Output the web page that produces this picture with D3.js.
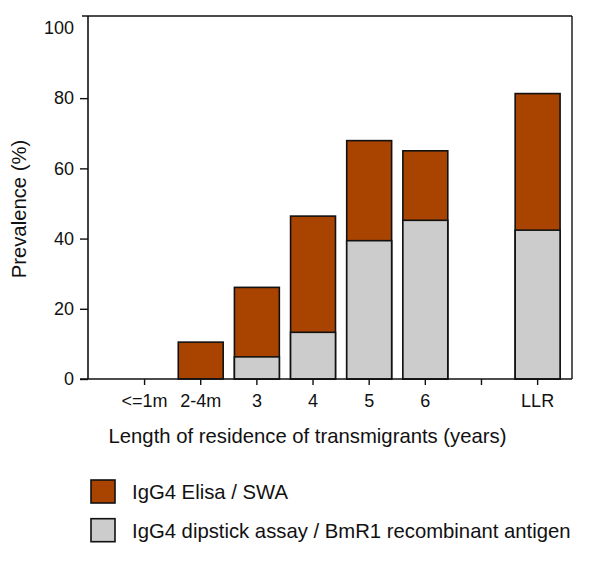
<!DOCTYPE html>
<html>
<head>
<meta charset="utf-8">
<script src="https://cdn.jsdelivr.net/npm/d3@7"></script>
<style>
  html, body { margin: 0; padding: 0; background: #fff; }
  svg { display: block; font-family: "Liberation Sans", Arial, sans-serif; }
</style>
</head>
<body>
<svg id="chart" width="600" height="561"></svg>
<script>
// ---- Data ----
const categories = ["<=1m", "2-4m", "3", "4", "5", "6", " ", "LLR"];
const elisaValues = [0, 10.5, 26.1, 46.4, 67.9, 65.0, null, 81.3];     // IgG4 Elisa / SWA
const dipstickValues = [0, 0, 6.3, 13.3, 39.4, 45.2, null, 42.4];      // IgG4 dipstick / BmR1
const yTickValues = [0, 20, 40, 60, 80, 100];
const seriesNames = ["IgG4 Elisa / SWA", "IgG4 dipstick assay / BmR1 recombinant antigen"];
const seriesColors = ["#a84400", "#cccccc"];

// ---- Layout ----
const svg = d3.select("#chart");
const plot = { left: 88, right: 572, top: 16, bottom: 379 };

const x = d3.scaleBand()
  .domain(categories)
  .range([116.5, 565.7])
  .paddingInner(0.2)
  .paddingOuter(0.1);

const y = d3.scaleLinear()
  .domain([0, 103.4])
  .range([plot.bottom, plot.top]);

const tickFont = 18;
const titleFont = 20.3;

// bars: Elisa full bar, dipstick overlaid from 0
const g = svg.append("g");
categories.forEach((c, i) => {
  const e = elisaValues[i];
  const d = dipstickValues[i];
  if (e != null && e > 0) {
    g.append("rect")
      .attr("x", x(c)).attr("width", x.bandwidth())
      .attr("y", y(e)).attr("height", y(0) - y(e))
      .attr("fill", seriesColors[0])
      .attr("stroke", "#111").attr("stroke-width", 1.6);
  }
  if (d != null && d > 0) {
    g.append("rect")
      .attr("x", x(c)).attr("width", x.bandwidth())
      .attr("y", y(d)).attr("height", y(0) - y(d))
      .attr("fill", seriesColors[1])
      .attr("stroke", "#111").attr("stroke-width", 1.6);
  }
});

// frame: top and right
svg.append("line")
  .attr("x1", 82).attr("x2", plot.right)
  .attr("y1", plot.top).attr("y2", plot.top)
  .attr("stroke", "#111").attr("stroke-width", 1.6);
svg.append("line")
  .attr("x1", plot.right).attr("x2", plot.right)
  .attr("y1", plot.top).attr("y2", plot.bottom)
  .attr("stroke", "#111").attr("stroke-width", 1.4);

// y axis
const yAxis = d3.axisLeft(y).tickValues(yTickValues).tickSize(8).tickPadding(6).tickSizeOuter(0);
const yg = svg.append("g").attr("transform", `translate(${plot.left},0)`).call(yAxis);
yg.select(".domain").attr("stroke", "#111").attr("stroke-width", 1.6)
  .attr("d", `M0,${plot.top}V${plot.bottom}`);
yg.selectAll(".tick line").attr("stroke", "#111").attr("stroke-width", 1.4)
  .filter(d => d === 100).remove();
yg.selectAll(".tick text").attr("font-size", tickFont).attr("fill", "#111")
  .attr("font-family", "Liberation Sans, Arial, sans-serif");

// x axis
const xAxis = d3.axisBottom(x).tickSize(6).tickPadding(9).tickSizeOuter(0);
const xg = svg.append("g").attr("transform", `translate(0,${plot.bottom})`).call(xAxis);
xg.select(".domain").attr("stroke", "#111").attr("stroke-width", 1.6)
  .attr("d", `M80,0H${plot.right}`);
xg.selectAll(".tick line").attr("stroke", "#111").attr("stroke-width", 1.4);
xg.selectAll(".tick text").attr("font-size", tickFont).attr("fill", "#111")
  .attr("font-family", "Liberation Sans, Arial, sans-serif");

// axis titles
svg.append("text")
  .attr("x", 307.5).attr("y", 443)
  .attr("text-anchor", "middle")
  .attr("font-size", titleFont).attr("fill", "#111")
  .text("Length of residence of transmigrants (years)");

svg.append("text")
  .attr("transform", "translate(26,209) rotate(-90)")
  .attr("text-anchor", "middle")
  .attr("font-size", titleFont).attr("fill", "#111")
  .text("Prevalence (%)");

// legend
const legend = svg.append("g").attr("transform", "translate(91,480)");
seriesNames.forEach((name, i) => {
  const row = legend.append("g").attr("transform", `translate(0,${i * 38.7})`);
  row.append("rect")
    .attr("width", 24).attr("height", 23)
    .attr("fill", seriesColors[i])
    .attr("stroke", "#111").attr("stroke-width", 1.6);
  row.append("text")
    .attr("x", 41).attr("y", 19)
    .attr("font-size", titleFont).attr("fill", "#111")
    .text(name);
});
</script>
</body>
</html>
